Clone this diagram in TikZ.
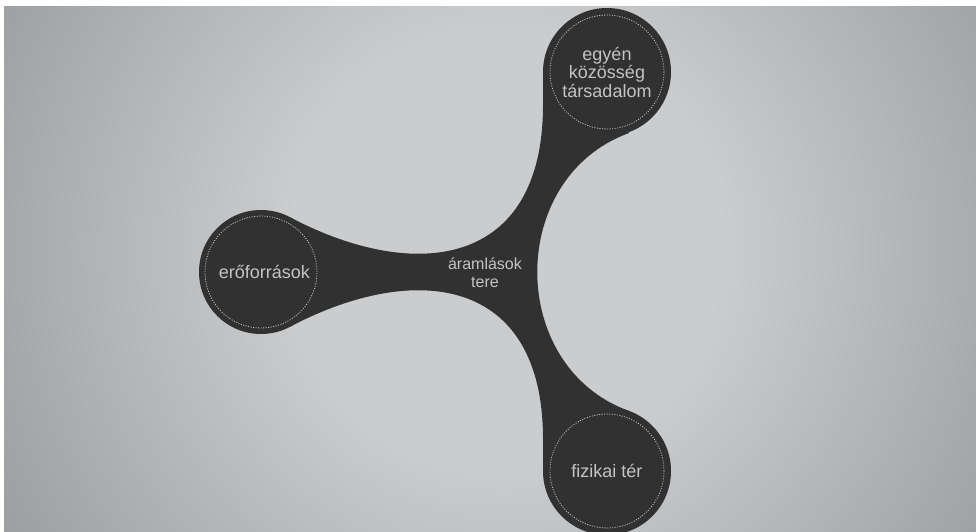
\documentclass[tikz,border=0pt]{standalone}
\usepackage{fontspec}
\setmainfont{Liberation Sans}
\usetikzlibrary{positioning}
\definecolor{blob}{HTML}{313131}
\definecolor{ink}{HTML}{C4C4C4}
\definecolor{bglight}{HTML}{CBCCCE}
\definecolor{bgdark}{HTML}{6F7074}
\pgfdeclareradialshading{bgglow}{\pgfpoint{0bp}{0bp}}{color(0bp)=(bglight); color(9bp)=(bglight); color(39bp)=(bgdark); color(50bp)=(bgdark)}

\begin{document}
\begin{tikzpicture}[x=0.75pt, y=-0.75pt,
    hub/.style={circle, fill=blob, inner sep=0pt, text=ink, align=center,
      font=\fontsize{13.5}{13.9}\selectfont},
    ring/.style={draw=ink, line width=0.6pt, dash pattern=on 0.8pt off 1.1pt}]
  \useasboundingbox (0,0) rectangle (976,532);
  \fill[white] (0,0) rectangle (976,532);
  \begin{scope}
    \clip (4,6) rectangle (976,532);
    \fill[bgdark] (4,6) rectangle (976,532);
    \shade[shading=bgglow] (505,250) circle[radius=450pt];
  \end{scope}

  % body joining the three circles
  \fill[blob] (290.1,217.3) .. controls (415,283) and (543,268) .. (543,105)
    -- (543,73) -- (607,73) -- (628.9,133.1)
    .. controls (506.7,177.3) and (506.7,366.7) .. (628.9,410.9)
    -- (607,471) -- (543,471) -- (543,439)
    .. controls (543,276) and (415,261) .. (290.1,326.7) -- (261,272) -- cycle;

  \node[hub, minimum size=96pt] (people) at (607,72) {egyén\\közösség\\társadalom};
  \node[hub, minimum size=93pt] (resources) at (261,272) {\hspace{5pt}erőforrások};
  \node[hub, minimum size=96pt] (space) at (607,471) {fizikai tér};
  \node[text=ink, align=center, font=\fontsize{12}{13.5}\selectfont] (flows) at (485,273) {áramlások\\tere};

  \draw[ring] (people.center) circle[radius=42.75pt];
  \draw[ring] (resources.center) circle[radius=42pt];
  \draw[ring] (space.center) circle[radius=42.75pt];
\end{tikzpicture}
\end{document}
